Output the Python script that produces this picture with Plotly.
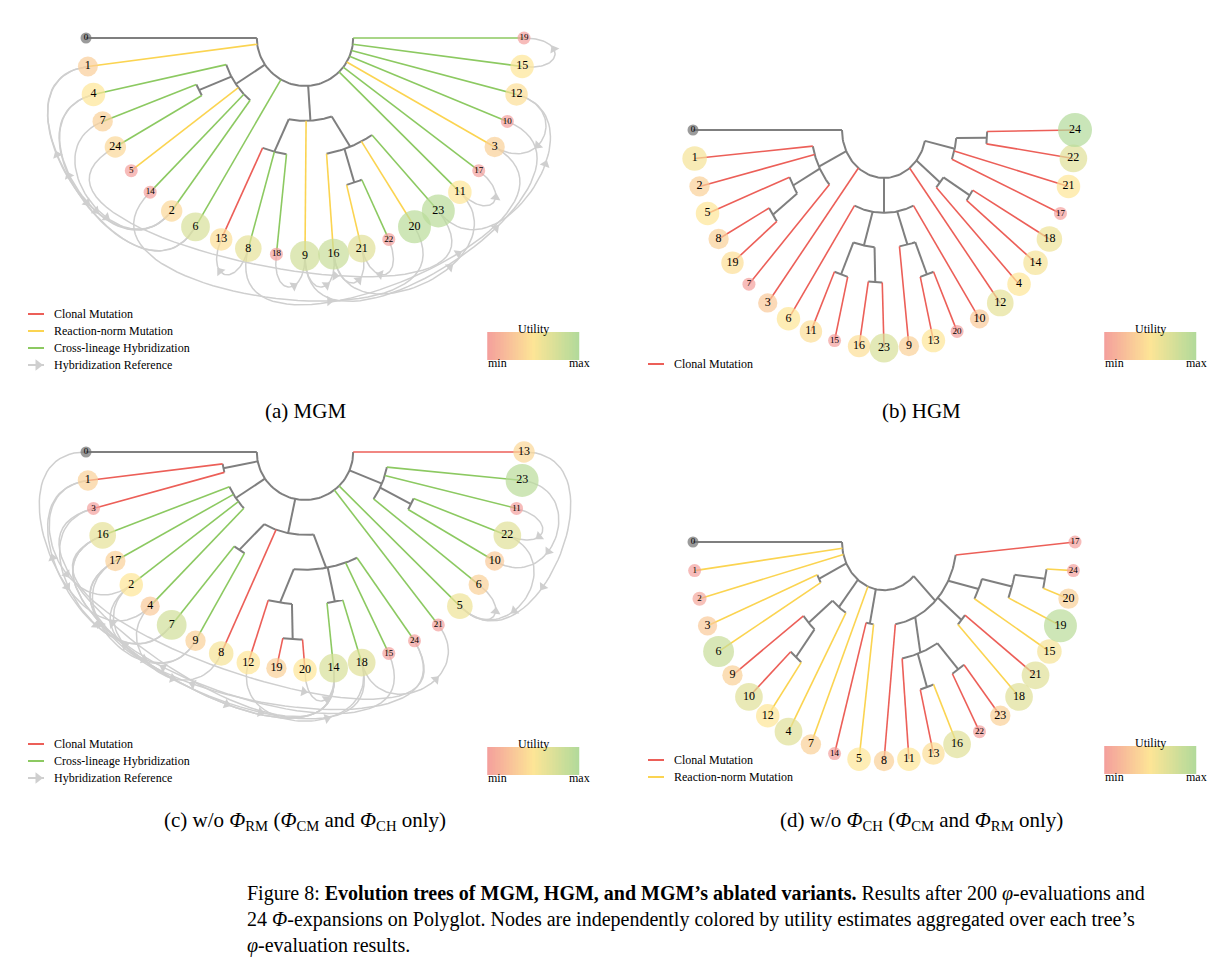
import numpy as np
import plotly.graph_objects as go

# ---- data -------------------------------------------------------------
# trees as nested lists of node ids (leaf order = flatten order)
tree_a = [0, 1, [4, [7, 24], 5, 14, 2], 6, [[13, 8, 18], 9, [16, [21, 22], 20, 23]], 11, 17, 3, 10, 12, 15, 19]
tree_b = [0, [1, 2, [5, [8, 19]], 7], 3, [6, [[11, 15], [16, 23]], [9, [13, 20]], 10], 12, [4, [14, 18]], [17, 21, [22, 24]]]
tree_c = [0, [1, 3], [16, 17, 2, 4], [[7, 9], 8, [[12, [19, 20]], [14, 18], 15, 24]], 21, 5, [6, [10, 22], 11, 23], 13]
tree_d = [0, 1, 2, [3, 6], [[9, [10, 12]], 4], 7, [14, 5], [8, [11, [13, 16], [22, 23]], [18, 21], [15, [19, [20, 24]]], 17]]

# edge type per node: C = clonal, R = reaction-norm, H = cross-lineage hybridization
types_a = {1: 'R', 4: 'H', 7: 'H', 24: 'H', 5: 'R', 14: 'H', 2: 'H', 6: 'H', 13: 'C', 8: 'H', 18: 'H', 9: 'R',
           16: 'R', 21: 'R', 22: 'H', 20: 'R', 23: 'H', 11: 'H', 17: 'H', 3: 'R', 10: 'H', 12: 'H', 15: 'H', 19: 'H'}
types_b = {k: 'C' for k in range(1, 25)}
types_c = {1: 'C', 3: 'C', 16: 'H', 17: 'H', 2: 'H', 4: 'H', 7: 'H', 9: 'H', 8: 'C', 12: 'C', 19: 'C', 20: 'C',
           14: 'H', 18: 'H', 15: 'H', 24: 'H', 21: 'H', 5: 'H', 6: 'H', 10: 'H', 22: 'H', 11: 'H', 23: 'H', 13: 'C'}
types_d = {1: 'R', 2: 'R', 3: 'R', 6: 'R', 9: 'C', 10: 'C', 12: 'R', 4: 'R', 7: 'R', 14: 'C', 5: 'R', 8: 'C',
           11: 'C', 13: 'C', 16: 'R', 22: 'C', 23: 'C', 18: 'R', 21: 'C', 15: 'R', 19: 'R', 20: 'R', 24: 'R', 17: 'C'}

# utility (0 = min, 1 = max)
util_a = {1: .33, 4: .5, 7: .35, 24: .4, 5: 0, 14: 0, 2: .4, 6: .75, 13: .45, 8: .65, 18: 0, 9: .8, 16: .85,
          21: .7, 22: 0, 20: .95, 23: .95, 11: .5, 17: 0, 3: .35, 10: 0, 12: .45, 15: .5, 19: 0}
util_b = {1: .55, 2: .35, 5: .5, 8: .35, 19: .45, 7: 0, 3: .3, 6: .5, 11: .45, 15: 0, 16: .45, 23: .75, 9: .35,
          13: .5, 20: 0, 10: .3, 12: .65, 4: .5, 14: .55, 18: .6, 17: 0, 21: .5, 22: .7, 24: 1.0}
util_c = {1: .35, 3: 0, 16: .65, 17: .35, 2: .5, 4: .3, 7: .8, 9: .35, 8: .55, 12: .5, 19: .35, 20: .5, 14: .75,
          18: .7, 15: 0, 24: 0, 21: 0, 5: .6, 6: .35, 10: .3, 22: .7, 11: 0, 23: .95, 13: .4}
util_d = {1: 0, 2: .05, 3: .3, 6: .85, 9: .35, 10: .7, 12: .5, 4: .7, 7: .35, 14: 0, 5: .5, 8: .35, 11: .5,
          13: .45, 16: .7, 22: 0, 23: .35, 18: .7, 21: .7, 15: .55, 19: .95, 20: .35, 24: 0, 17: 0}

# hybridization references (source, target)
refs_a = [(1, 2), (4, 2), (7, 2), (6, 4), (8, 13), (18, 9), (24, 23), (14, 20), (9, 16), (16, 21), (22, 21),
          (8, 3), (9, 10), (16, 11), (23, 12), (11, 17), (15, 19), (12, 3), (6, 1)]
refs_c = [(0, 4), (1, 2), (3, 7), (16, 14), (17, 18), (16, 24), (2, 9), (4, 8), (7, 1), (9, 17), (12, 18),
          (14, 16), (14, 3), (18, 21), (5, 6), (23, 10), (13, 5), (11, 22), (22, 5), (20, 14), (15, 17), (24, 2)]

captions = ['(a) MGM', '(b) HGM',
            '(c) w/o <i>Φ</i><sub>RM</sub> (<i>Φ</i><sub>CM</sub> and <i>Φ</i><sub>CH</sub> only)',
            '(d) w/o <i>Φ</i><sub>CH</sub> (<i>Φ</i><sub>CM</sub> and <i>Φ</i><sub>RM</sub> only)']
legend_a = ['C', 'R', 'H', 'ref']
legend_b = ['C']
legend_c = ['C', 'H', 'ref']
legend_d = ['C', 'R']

# ---- styling ----------------------------------------------------------
edge_colors = {'C': '#ec5f58', 'R': '#fbd451', 'H': '#8cc961'}
edge_names = {'C': 'Clonal Mutation', 'R': 'Reaction-norm Mutation', 'H': 'Cross-lineage Hybridization',
              'ref': 'Hybridization Reference'}
GRAY = '#7f7f7f'
REF = '#cfcfcf'
scale = [[0, '#f4a09c'], [0.5, '#fde596'], [1, '#b2da9a']]
SERIF = 'Liberation Serif, Times New Roman, serif'


def ucolor(u):
    a, b, c = np.array([244, 160, 156]), np.array([253, 229, 150]), np.array([178, 218, 154])
    col = a + (b - a) * u * 2 if u < 0.5 else b + (c - b) * (u - 0.5) * 2
    return 'rgb(%d,%d,%d)' % tuple(col)


def flatten(t):
    return [t] if isinstance(t, int) else [x for c in t for x in flatten(c)]


fig = go.Figure()


def drawPanel(tree, types, util, refs, geo, legend, cap):
    cx, cy, rx, ry = geo['c']
    order = flatten(tree)
    n = len(order)
    ang = {k: np.pi * i / (n - 1) for i, k in enumerate(order)}

    def pt(f, t):
        return cx - rx * f * np.cos(t), cy + ry * f * np.sin(t)

    lines = {'gray': ([], [])}
    for k in edge_colors:
        lines[k] = ([], [])

    def add(key, xs, ys):
        lines[key][0].extend(list(xs) + [None])
        lines[key][1].extend(list(ys) + [None])

    def place(node, depth):
        if isinstance(node, int):
            return ang[node]
        ts = [place(c, depth + 1) for c in node]
        t = (ts[0] + ts[-1]) / 2
        f = 0.22 + 0.16 * depth
        shrink = 1.0 if depth == 0 else 0.8
        conns = [t + shrink * (ti - t) for ti in ts]
        arc = np.linspace(min(conns), max(conns), 60)
        add('gray', *pt(f, arc))
        for c, ti, ci in zip(node, ts, conns):
            x0, y0 = pt(f, ci)
            if isinstance(c, int):
                x1, y1 = pt(1, ti)
                add(types.get(c, 'gray'), [x0, x1], [y0, y1])
            else:
                x1, y1 = pt(0.22 + 0.16 * (depth + 1), ti)
                add('gray', [x0, x1], [y0, y1])
        return t

    place(tree, 0)

    # hybridization references
    rxs, rys, ax, ay, aang = [], [], [], [], []
    for s, d in refs:
        p0 = np.array(pt(1, ang[s]))
        p3 = np.array(pt(1, ang[d]))
        o0 = (p0 - [cx, cy]) / np.linalg.norm(p0 - [cx, cy])
        o3 = (p3 - [cx, cy]) / np.linalg.norm(p3 - [cx, cy])
        k = 0.45 * np.linalg.norm(p3 - p0) + 30
        p1, p2 = p0 + o0 * k, p3 + o3 * k
        s_ = np.linspace(0, 1, 50)[:, None]
        b = (1 - s_) ** 3 * p0 + 3 * (1 - s_) ** 2 * s_ * p1 + 3 * (1 - s_) * s_ ** 2 * p2 + s_ ** 3 * p3
        rxs.extend(list(b[:, 0]) + [None])
        rys.extend(list(b[:, 1]) + [None])
        i = 30
        dx, dy = b[i + 1] - b[i - 1]
        ax.append(b[i, 0])
        ay.append(b[i, 1])
        aang.append(np.degrees(np.arctan2(dx, -dy)))
    if refs:
        fig.add_trace(go.Scatter(x=rxs, y=rys, mode='lines', line=dict(color=REF, width=1.5), hoverinfo='skip'))
        fig.add_trace(go.Scatter(x=ax, y=ay, mode='markers', hoverinfo='skip',
                                 marker=dict(symbol='triangle-up', size=9, color=REF, angle=aang)))

    for key, (xs, ys) in lines.items():
        if xs:
            col = GRAY if key == 'gray' else edge_colors[key]
            fig.add_trace(go.Scatter(x=xs, y=ys, mode='lines', hoverinfo='skip',
                                     line=dict(color=col, width=2 if key == 'gray' else 1.6)))

    # nodes
    xs, ys, cols, sizes, labels = [], [], [], [], []
    for k in order:
        x, y = pt(1, ang[k])
        xs.append(x)
        ys.append(y)
        if k == 0:
            cols.append('#707070')
            sizes.append(11)
        else:
            cols.append(ucolor(util[k]))
            sizes.append(13 + 21 * util[k])
        labels.append(str(k))
    fig.add_trace(go.Scatter(x=xs, y=ys, mode='markers+text', text=labels, hoverinfo='skip',
                             marker=dict(color=cols, size=sizes, line=dict(width=0)),
                             textfont=dict(family=SERIF, size=[9 if s < 17 else 12 for s in sizes], color='black')))

    # legend (last entry at geo['leg'][1])
    lx, ly_last = geo['leg']
    for j, key in enumerate(legend):
        y = ly_last - 17 * (len(legend) - 1 - j)
        col = REF if key == 'ref' else edge_colors[key]
        fig.add_trace(go.Scatter(x=[lx, lx + 16], y=[y, y], mode='lines', line=dict(color=col, width=2),
                                 hoverinfo='skip'))
        if key == 'ref':
            fig.add_trace(go.Scatter(x=[lx + 10], y=[y], mode='markers', hoverinfo='skip',
                                     marker=dict(symbol='triangle-right', size=10, color=REF)))
        fig.add_annotation(x=lx + 24, y=y, text=edge_names[key], showarrow=False, xanchor='left',
                           font=dict(family=SERIF, size=12, color='black'))

    # utility colorbar
    bx0, by = geo['bar']
    bx1 = bx0 + 90
    gx = np.linspace(bx0, bx1, 60)
    fig.add_trace(go.Heatmap(x=gx, y=[by - 7, by + 7], z=[np.linspace(0, 1, 60)] * 2, colorscale=scale,
                             showscale=False, hoverinfo='skip'))
    fig.add_annotation(x=(bx0 + bx1) / 2, y=by - 17, text='Utility', showarrow=False,
                       font=dict(family=SERIF, size=12, color='black'))
    fig.add_annotation(x=bx0 + 9, y=by + 17, text='min', showarrow=False,
                       font=dict(family=SERIF, size=12, color='black'))
    fig.add_annotation(x=bx1 + 1, y=by + 17, text='max', showarrow=False,
                       font=dict(family=SERIF, size=12, color='black'))

    fig.add_annotation(x=cx if cx < 600 else 913, y=geo['cap'], text=cap, showarrow=False, yanchor='middle',
                       font=dict(family=SERIF, size=21, color='black'))


geo_a = dict(c=(297, 30, 219, 218), leg=(20, 357), bar=(480, 338), cap=403)
geo_b = dict(c=(876, 122, 191, 218), leg=(640, 356), bar=(1097, 338), cap=403)
geo_c = dict(c=(297, 444, 219, 218), leg=(20, 770), bar=(480, 753), cap=813)
geo_d = dict(c=(876, 534, 191, 219), leg=(640, 769), bar=(1097, 752), cap=813)

drawPanel(tree_a, types_a, util_a, refs_a, geo_a, legend_a, captions[0])
drawPanel(tree_b, types_b, util_b, [], geo_b, legend_b, captions[1])
drawPanel(tree_c, types_c, util_c, refs_c, geo_c, legend_c, captions[2])
drawPanel(tree_d, types_d, util_d, [], geo_d, legend_d, captions[3])

fig_caption = ('Figure 8: <b>Evolution trees of MGM, HGM, and MGM’s ablated variants.</b> Results after 200 '
               '<i>φ</i>-evaluations and<br>24 <i>Φ</i>-expansions on Polyglot. Nodes are independently colored '
               'by utility estimates aggregated over each tree’s<br><i>φ</i>-evaluation results.')
fig.add_annotation(x=237, y=872, text=fig_caption, showarrow=False, xanchor='left', yanchor='top', align='left',
                   font=dict(family=SERIF, size=20, color='black'))

fig.update_layout(
    width=1222, height=977, margin=dict(l=0, r=0, t=0, b=0),
    plot_bgcolor='white', paper_bgcolor='white', showlegend=False,
    xaxis=dict(range=[0, 1222], visible=False, fixedrange=True),
    yaxis=dict(range=[977, 0], visible=False, fixedrange=True),
)

fig.write_html("out.html")
